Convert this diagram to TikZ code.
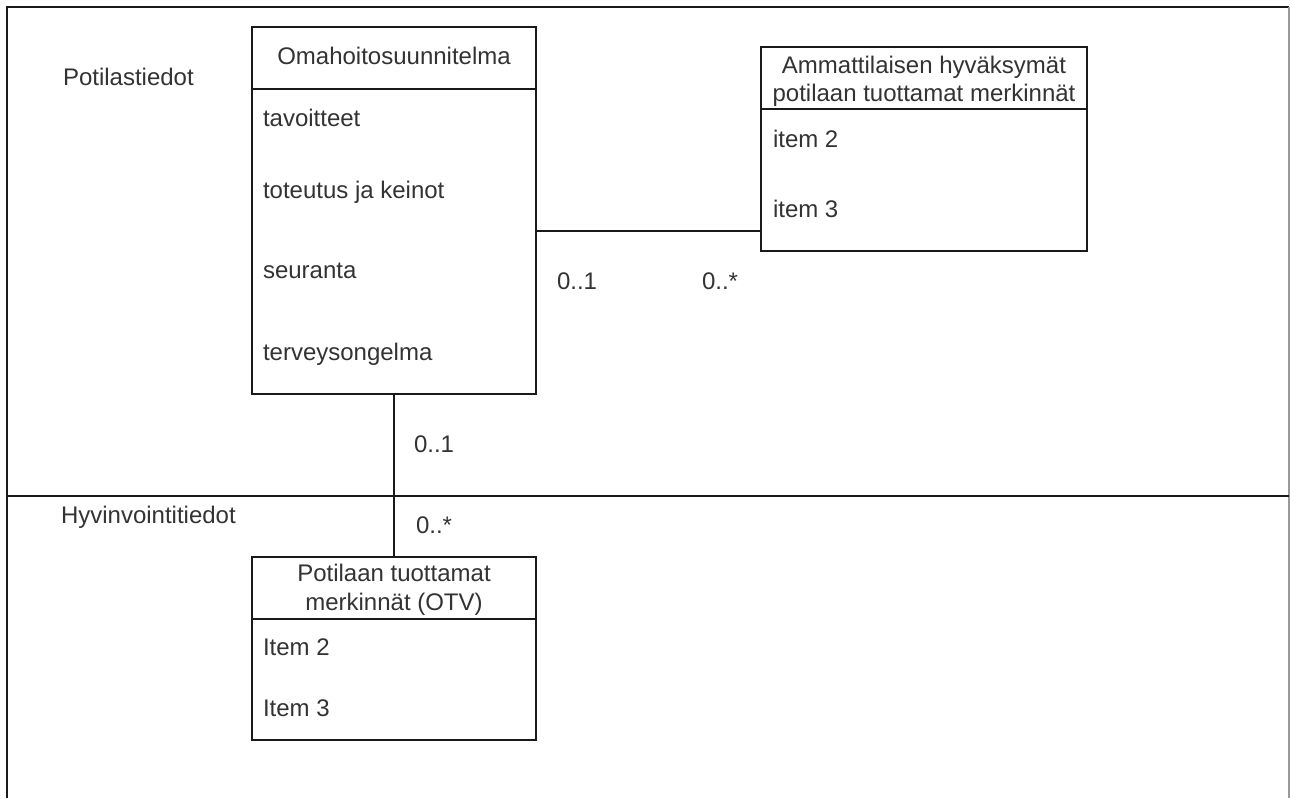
\documentclass[tikz,border=0pt]{standalone}
\usepackage{fontspec}
\setmainfont{Liberation Sans}
\begin{document}
\begin{tikzpicture}[x=1pt,y=-1pt,
  every node/.style={inner sep=0pt,outer sep=0pt,text=txtgray,
    font=\fontsize{24}{28}\selectfont},
  classpart/.style={draw=linegray,line width=1.8pt,rectangle,anchor=north west},
  headtext/.style={align=center,anchor=base},
  itemtext/.style={anchor=base west},
  mult/.style={anchor=base west},
  assoc/.style={draw=linegray,line width=1.8pt},
  frame/.style={draw=linegray,line width=2.2pt}]
\definecolor{txtgray}{HTML}{333333}
\definecolor{linegray}{HTML}{1A1A1A}
\definecolor{edgegray}{HTML}{9A9A9A}
\useasboundingbox[fill=white] (0,0) rectangle (1290,798);

% outer frame and swimlane divider
\draw[frame] (7,798) -- (7,7) -- (1289,7);
\draw[draw=edgegray,line width=1.2pt] (1289,7) -- (1289,798);
\draw[frame] (7,496) -- (1289,496);

% lane titles
\node[itemtext] (laneTop) at (63,85) {Potilastiedot};
\node[itemtext] (laneBottom) at (61,523) {Hyvinvointitiedot};

% class: Omahoitosuunnitelma
\node[classpart,minimum width=284pt,minimum height=62pt] (omaHead) at (252,27) {};
\node[classpart,minimum width=284pt,minimum height=305pt] (omaBody) at (252,89) {};
\node[headtext] (omaTitle) at (394,64) {Omahoitosuunnitelma};
\node[itemtext] (omaA) at (263,126) {tavoitteet};
\node[itemtext] (omaB) at (263,198) {toteutus ja keinot};
\node[itemtext] (omaC) at (263,278) {seuranta};
\node[itemtext] (omaD) at (263,360) {terveysongelma};

% class: Ammattilaisen hyväksymät potilaan tuottamat merkinnät
\node[classpart,minimum width=326pt,minimum height=62pt] (ammHead) at (761,47) {};
\node[classpart,minimum width=326pt,minimum height=142pt] (ammBody) at (761,109) {};
\node[headtext] (ammTitleA) at (924,73) {Ammattilaisen hyväksymät};
\node[headtext] (ammTitleB) at (924,101) {potilaan tuottamat merkinnät};
\node[itemtext] (ammA) at (773,147) {item 2};
\node[itemtext] (ammB) at (773,217) {item 3};

% class: Potilaan tuottamat merkinnät (OTV)
\node[classpart,minimum width=284pt,minimum height=62pt] (potHead) at (252,557) {};
\node[classpart,minimum width=284pt,minimum height=121pt] (potBody) at (252,619) {};
\node[headtext] (potTitleA) at (394,581) {Potilaan tuottamat};
\node[headtext] (potTitleB) at (394,610) {merkinnät (OTV)};
\node[itemtext] (potA) at (263,655) {Item 2};
\node[itemtext] (potB) at (263,716) {Item 3};

% associations
\coordinate (linkY) at (0,231);
\draw[assoc] (omaBody.east |- linkY) -- (ammBody.west |- linkY);
\draw[assoc] (omaBody.south) -- (potHead.north);

% multiplicities
\node[mult] (mA) at (557,289) {0..1};
\node[mult] (mB) at (702,289) {0..*};
\node[mult] (mC) at (414,452) {0..1};
\node[mult] (mD) at (416,533) {0..*};
\end{tikzpicture}
\end{document}
